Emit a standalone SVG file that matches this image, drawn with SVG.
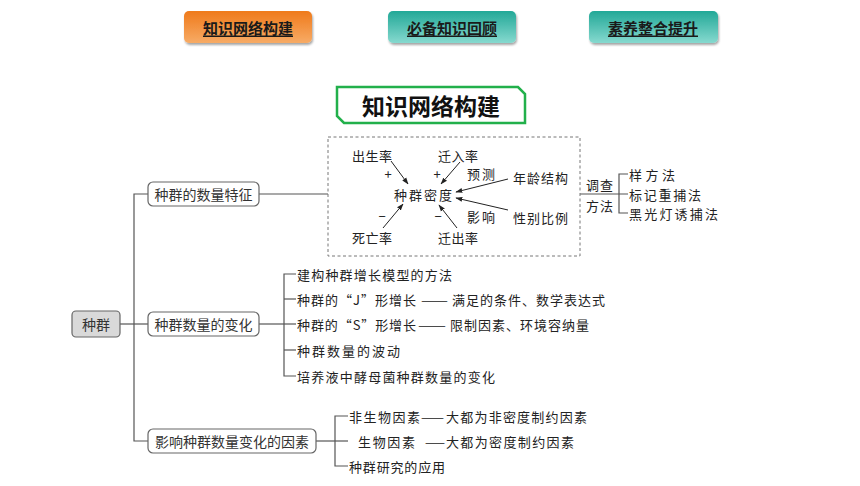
<svg xmlns="http://www.w3.org/2000/svg" width="860" height="486" viewBox="0 0 860 486">
<defs>
<linearGradient id="gOrange" x1="0" y1="0" x2="0" y2="1">
<stop offset="0" stop-color="#ef7a1a"/><stop offset="1" stop-color="#f7ab66"/>
</linearGradient>
<linearGradient id="gTeal" x1="0" y1="0" x2="0" y2="1">
<stop offset="0" stop-color="#22a897"/><stop offset="1" stop-color="#86d9cf"/>
</linearGradient>
<filter id="sh" x="-10%" y="-20%" width="120%" height="150%">
<feDropShadow dx="1" dy="2" stdDeviation="1.2" flood-color="#000" flood-opacity="0.35"/>
</filter>
<marker id="ah" viewBox="0 0 10 10" refX="9" refY="5" markerWidth="7" markerHeight="7" orient="auto" markerUnits="userSpaceOnUse">
<path d="M0,1.5 L10,5 L0,8.5 Z" fill="#222"/>
</marker>
<style>
text{font-family:"Noto Sans CJK SC","Noto Sans",sans-serif;fill:#222}
.btn{font-size:15px;font-weight:bold;text-decoration:underline;fill:#1a1a1a}
.box{fill:#fff;stroke:#666;stroke-width:1.2}
.lbl{font-size:14px;fill:#333}
.it{font-size:13px;fill:#222}
.ln{fill:none;stroke:#555;stroke-width:1.2}
.ar{fill:none;stroke:#222;stroke-width:1}
</style>
</defs>

<g id="nav">
<g id="btn1"><rect x="184" y="11" width="128" height="32" rx="5" fill="url(#gOrange)" filter="url(#sh)"/>
<text class="btn" x="248" y="27" text-anchor="middle" dominant-baseline="central">知识网络构建</text></g>
<g id="btn2"><rect x="388" y="11" width="128" height="32" rx="5" fill="url(#gTeal)" filter="url(#sh)"/>
<text class="btn" x="452" y="27" text-anchor="middle" dominant-baseline="central">必备知识回顾</text></g>
<g id="btn3"><rect x="589" y="11" width="129" height="32" rx="5" fill="url(#gTeal)" filter="url(#sh)"/>
<text class="btn" x="653" y="27" text-anchor="middle" dominant-baseline="central">素养整合提升</text></g>
</g>

<g id="title">
<polygon points="337,87 518,87 525,94 525,123 344,123 337,116" fill="#fff" stroke="#22b04b" stroke-width="2.5"/>
<text x="431" y="105" text-anchor="middle" dominant-baseline="central" font-size="23" font-weight="bold" style="fill:#111">知识网络构建</text>
</g>

<g id="connectors">
<polyline class="ln" points="120,324 148,324"/>
<polyline class="ln" points="148,194 134,194 134,441 148,441"/>
<polyline class="ln" points="259,194 328,194"/>
<polyline class="ln" points="259,324 284,324"/>
<polyline class="ln" points="296,274 284,274 284,376 296,376"/>
<line class="ln" x1="284" y1="299" x2="296" y2="299"/>
<line class="ln" x1="284" y1="350" x2="296" y2="350"/>
<line class="ln" x1="296" y1="324" x2="284" y2="324"/>
<polyline class="ln" points="316,441 335,441"/>
<polyline class="ln" points="348,416 335,416 335,466 348,466"/>
<line class="ln" x1="335" y1="441" x2="348" y2="441"/>
<line class="ln" x1="580" y1="194" x2="628" y2="194"/>
<polyline class="ln" points="628,174 619,174 619,213 628,213"/>
<line class="ar" x1="391" y1="161" x2="408" y2="184" marker-end="url(#ah)"/>
<line class="ar" x1="460" y1="162" x2="441" y2="184" marker-end="url(#ah)"/>
<line class="ar" x1="383" y1="228" x2="403" y2="204" marker-end="url(#ah)"/>
<line class="ar" x1="457" y1="228" x2="439" y2="205" marker-end="url(#ah)"/>
<line class="ar" x1="508" y1="179" x2="456" y2="192" marker-end="url(#ah)"/>
<line class="ar" x1="508" y1="210" x2="456" y2="198" marker-end="url(#ah)"/>
</g>

<g id="root">
<rect x="72" y="311" width="48" height="26" rx="4" fill="#d9d9d9" stroke="#666" stroke-width="1.2"/>
<text class="lbl" x="96" y="324" text-anchor="middle" dominant-baseline="central">种群</text>
</g>

<g id="n-feature">
<rect class="box" x="148" y="182" width="111" height="24" rx="5"/>
<text class="lbl" x="203.5" y="194" text-anchor="middle" dominant-baseline="central">种群的数量特征</text>
</g>

<g id="n-change">
<rect class="box" x="148" y="312" width="111" height="24" rx="5"/>
<text class="lbl" x="203.5" y="324" text-anchor="middle" dominant-baseline="central">种群数量的变化</text>
</g>

<g id="n-factor">
<rect class="box" x="148" y="429" width="168" height="24" rx="5"/>
<text class="lbl" x="232" y="441" text-anchor="middle" dominant-baseline="central">影响种群数量变化的因素</text>
</g>

<g id="n-density-box">
<rect x="328" y="137" width="252" height="119" fill="none" stroke="#777" stroke-width="1" stroke-dasharray="3,2.5"/>
<text class="it" x="352" y="155" dominant-baseline="central" textLength="40">出生率</text>
<text class="it" x="438" y="155" dominant-baseline="central" textLength="40">迁入率</text>
<text class="it" x="388" y="173" text-anchor="middle" dominant-baseline="central">+</text>
<text class="it" x="437" y="173" text-anchor="middle" dominant-baseline="central">+</text>
<text class="it" x="394" y="194" dominant-baseline="central" textLength="58">种群密度</text>
<text class="it" x="467" y="173" dominant-baseline="central" textLength="28">预测</text>
<text class="it" x="513" y="177" dominant-baseline="central" textLength="55">年龄结构</text>
<text class="it" x="467" y="216" dominant-baseline="central" textLength="28">影响</text>
<text class="it" x="513" y="217" dominant-baseline="central" textLength="55">性别比例</text>
<text class="it" x="382" y="215" text-anchor="middle" dominant-baseline="central">−</text>
<text class="it" x="438" y="215" text-anchor="middle" dominant-baseline="central">−</text>
<text class="it" x="352" y="237" dominant-baseline="central" textLength="40">死亡率</text>
<text class="it" x="438" y="237" dominant-baseline="central" textLength="40">迁出率</text>
</g>

<g id="n-method">
<text class="it" x="586" y="184" dominant-baseline="central" textLength="27">调查</text>
<text class="it" x="586" y="205" dominant-baseline="central" textLength="27">方法</text>
<text class="it" x="629" y="174" dominant-baseline="central" textLength="46">样方法</text>
<text class="it" x="629" y="194" dominant-baseline="central" textLength="72">标记重捕法</text>
<text class="it" x="629" y="213" dominant-baseline="central" textLength="89">黑光灯诱捕法</text>
</g>

<g id="n-change-items">
<text class="it" x="297" y="274" dominant-baseline="central" textLength="155">建构种群增长模型的方法</text>
<text class="it" x="297" y="299" dominant-baseline="central" textLength="119">种群的“J”形增长</text>
<text class="it" x="421" y="299" dominant-baseline="central" textLength="27" lengthAdjust="spacingAndGlyphs">——</text>
<text class="it" x="452" y="299" dominant-baseline="central" textLength="153">满足的条件、数学表达式</text>
<text class="it" x="297" y="324" dominant-baseline="central" textLength="119">种群的“S”形增长</text>
<text class="it" x="418" y="324" dominant-baseline="central" textLength="28" lengthAdjust="spacingAndGlyphs">——</text>
<text class="it" x="450" y="324" dominant-baseline="central" textLength="139">限制因素、环境容纳量</text>
<text class="it" x="297" y="350" dominant-baseline="central" textLength="103">种群数量的波动</text>
<text class="it" x="297" y="376" dominant-baseline="central" textLength="198">培养液中酵母菌种群数量的变化</text>
</g>

<g id="n-factor-items">
<text class="it" x="349" y="416" dominant-baseline="central" textLength="71">非生物因素</text>
<text class="it" x="421" y="416" dominant-baseline="central" textLength="23" lengthAdjust="spacingAndGlyphs">——</text>
<text class="it" x="446" y="416" dominant-baseline="central" textLength="141">大都为非密度制约因素</text>
<text class="it" x="358" y="441" dominant-baseline="central" textLength="57">生物因素</text>
<text class="it" x="425" y="441" dominant-baseline="central" textLength="20" lengthAdjust="spacingAndGlyphs">——</text>
<text class="it" x="446" y="441" dominant-baseline="central" textLength="128">大都为密度制约因素</text>
<text class="it" x="349" y="466" dominant-baseline="central" textLength="96">种群研究的应用</text>
</g>
</svg>
